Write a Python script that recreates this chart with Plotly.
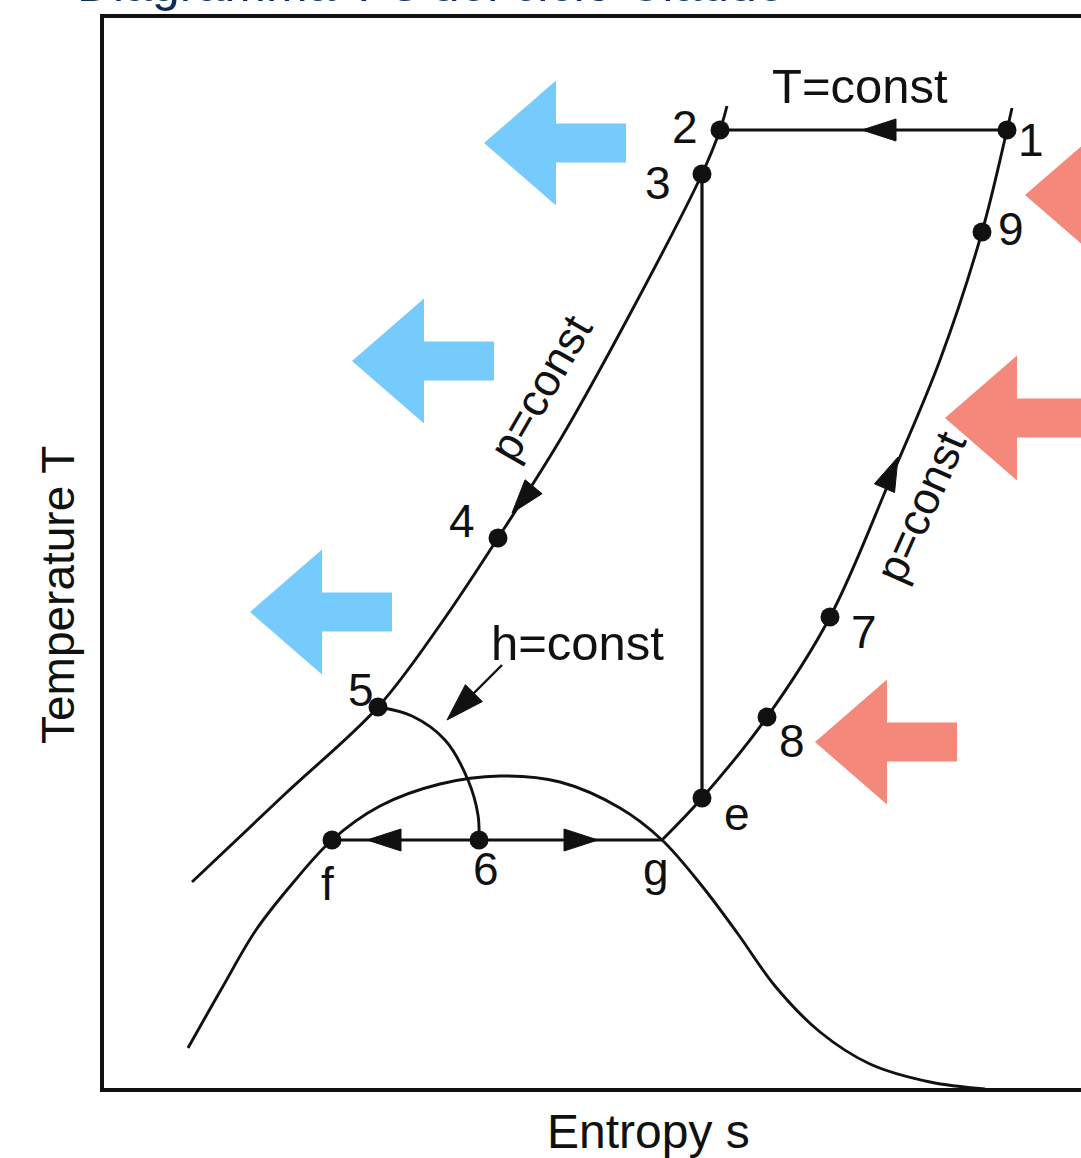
import math
import plotly.graph_objects as go

# ---------------------------------------------------------------------------
# T-s diagram of a Claude liquefaction cycle (entropy s, temperature T,
# arbitrary units; the frame origin is s = 0, T = 0)
# ---------------------------------------------------------------------------

# State points marked with a dot
STATE_LABELS = ["1", "2", "3", "4", "5", "6", "f", "e", "8", "7", "9"]
STATE_S = [9.05, 6.18, 6.00, 3.96, 2.76, 3.77, 2.30, 6.00, 6.65, 7.28, 8.80]
STATE_T = [9.60, 9.60, 9.16, 5.52, 3.83, 2.50, 2.50, 2.92, 3.73, 4.73, 8.58]

# High-pressure isobar (2 -> 3 -> 4 -> 5)
HP_ISOBAR_S = [0.90, 1.83, 2.76, 3.38, 3.96, 4.58, 5.28, 6.00, 6.18, 6.25]
HP_ISOBAR_T = [2.08, 2.96, 3.83, 4.65, 5.52, 6.50, 7.76, 9.16, 9.60, 9.84]

# Low-pressure isobar (g -> e -> 8 -> 7 -> 9 -> 1)
LP_ISOBAR_S = [5.60, 6.00, 6.65, 7.28, 7.88, 8.38, 8.80, 9.05, 9.10]
LP_ISOBAR_T = [2.50, 2.92, 3.73, 4.73, 6.10, 7.30, 8.58, 9.60, 9.82]

# Saturation dome
DOME_S = [0.86, 1.20, 1.54, 1.90, 2.30, 2.78, 3.38, 3.98, 4.58,
          5.18, 5.60, 6.00, 6.36, 6.73, 7.18, 7.68, 8.28, 8.83]
DOME_T = [0.42, 1.02, 1.60, 2.06, 2.50, 2.84, 3.06, 3.14, 3.08,
          2.82, 2.50, 2.04, 1.56, 1.04, 0.58, 0.26, 0.08, 0.01]

# Throttling along h = const (5 -> 6)
ISENTHALP_S = [2.76, 3.10, 3.43, 3.66, 3.76, 3.77]
ISENTHALP_T = [3.83, 3.74, 3.50, 3.10, 2.75, 2.50]

# Straight segments
ISOTHERM_S = [6.18, 9.05]          # compression 1 -> 2 at T = const
ISOTHERM_T = [9.60, 9.60]
EXPANDER_S = [6.00, 6.00]          # expander 3 -> e
EXPANDER_T = [9.16, 2.92]
PHASE_SPLIT_S = [2.30, 3.77, 5.60]  # f <- 6 -> g
PHASE_SPLIT_T = [2.50, 2.50, 2.50]

# Flow-direction arrowheads: tip position and direction
FLOW_TIP_S = [7.60, 2.65, 4.96, 4.10, 7.96]
FLOW_TIP_T = [9.60, 2.50, 2.50, 5.77, 6.33]
FLOW_DIR_S = [-1.0, -1.0, 1.0, -0.23, 0.13]
FLOW_DIR_T = [0.0, 0.0, 0.0, -0.28, 0.30]

# Heat rejected (blue) and heat absorbed (salmon): arrow tips
HEAT_OUT_TIP_S = [3.82, 2.50, 1.48]
HEAT_OUT_TIP_T = [9.47, 7.29, 4.78]
HEAT_IN_TIP_S = [9.23, 8.43, 7.13]
HEAT_IN_TIP_T = [8.95, 6.72, 3.48]

BLUE = "#76CBFD"
SALMON = "#F4887A"
INK = "#111111"
FONT = "Liberation Sans"

fig = go.Figure()


def block_arrow(tx, ty, color):
    """Left-pointing block arrow with its tip at (tx, ty)."""
    head_len, head_half, shaft_half, total = 0.72, 0.625, 0.195, 1.42
    xs = [tx, tx + head_len, tx + head_len, tx + total, tx + total,
          tx + head_len, tx + head_len, tx]
    ys = [ty, ty + head_half, ty + shaft_half, ty + shaft_half,
          ty - shaft_half, ty - shaft_half, ty - head_half, ty]
    fig.add_trace(go.Scatter(x=xs, y=ys, mode="lines", fill="toself",
                             fillcolor=color, line=dict(width=0, color=color),
                             hoverinfo="skip"))


def arrowhead(tx, ty, dx, dy, length=0.34, half=0.11):
    """Filled triangle whose tip is at (tx, ty), pointing along (dx, dy)."""
    n = math.hypot(dx, dy)
    ux, uy = dx / n, dy / n
    bx, by = tx - ux * length, ty - uy * length
    px, py = -uy * half, ux * half
    fig.add_trace(go.Scatter(x=[tx, bx + px, bx - px, tx],
                             y=[ty, by + py, by - py, ty],
                             mode="lines", fill="toself", fillcolor=INK,
                             line=dict(width=1, color=INK), hoverinfo="skip"))


for sx, tx in zip(HEAT_OUT_TIP_S, HEAT_OUT_TIP_T):
    block_arrow(sx, tx, BLUE)
for sx, tx in zip(HEAT_IN_TIP_S, HEAT_IN_TIP_T):
    block_arrow(sx, tx, SALMON)


def curve(xs, ys, width=2.9, smooth=True):
    fig.add_trace(go.Scatter(
        x=xs, y=ys, mode="lines",
        line=dict(color=INK, width=width,
                  shape="spline" if smooth else "linear", smoothing=1.0),
        hoverinfo="skip"))


curve(DOME_S, DOME_T)
curve(HP_ISOBAR_S, HP_ISOBAR_T)
curve(LP_ISOBAR_S, LP_ISOBAR_T)
curve(ISENTHALP_S, ISENTHALP_T)
curve(ISOTHERM_S, ISOTHERM_T, width=3.2, smooth=False)
curve(EXPANDER_S, EXPANDER_T, width=3.2, smooth=False)
curve(PHASE_SPLIT_S, PHASE_SPLIT_T, width=2.9, smooth=False)

for tx, ty, dx, dy in zip(FLOW_TIP_S, FLOW_TIP_T, FLOW_DIR_S, FLOW_DIR_T):
    arrowhead(tx, ty, dx, dy)

# h = const pointer
POINTER_S = [4.00, 3.45]
POINTER_T = [4.25, 3.70]
curve([POINTER_S[0], POINTER_S[1] + 0.25], [POINTER_T[0], POINTER_T[1] + 0.25],
      width=2.4, smooth=False)
arrowhead(POINTER_S[1], POINTER_T[1], POINTER_S[1] - POINTER_S[0],
          POINTER_T[1] - POINTER_T[0], length=0.38, half=0.12)

# State point dots
fig.add_trace(go.Scatter(x=STATE_S, y=STATE_T, mode="markers",
                         marker=dict(size=19, color=INK), hoverinfo="skip"))

# Frame: left, top and bottom borders
fig.add_shape(type="path", path="M 12,10.74 L 0,10.74 L 0,0 L 12,0",
              xref="x", yref="y", line=dict(color=INK, width=4))

# Labels: (text, s, T, size, angle)
LABELS = [
    ("1", 9.29, 9.50, 46, 0), ("2", 5.83, 9.63, 46, 0),
    ("3", 5.56, 9.07, 46, 0), ("9", 9.09, 8.61, 46, 0),
    ("4", 3.60, 5.69, 46, 0), ("5", 2.59, 4.00, 46, 0),
    ("7", 7.62, 4.58, 46, 0), ("8", 6.90, 3.49, 46, 0),
    ("e", 6.35, 2.76, 46, 0), ("6", 3.84, 2.21, 46, 0),
    ("f", 2.25, 2.06, 46, 0), ("g", 5.54, 2.21, 46, 0),
    ("T=const", 7.58, 10.04, 49, 0), ("h=const", 4.75, 4.47, 49, 0),
    ("p=const", 4.38, 7.02, 45, -60), ("p=const", 8.18, 5.83, 45, -66),
    ("Temperature T", -0.44, 4.95, 46, -90), ("Entropy s", 5.46, -0.41, 48, 0),
]
for text, sx, ty, size, ang in LABELS:
    fig.add_annotation(x=sx, y=ty, xref="x", yref="y", text=text,
                       showarrow=False, textangle=ang,
                       xanchor="center", yanchor="middle",
                       font=dict(family=FONT, size=size, color=INK))

# Slide heading, running off the top edge
fig.add_annotation(x=0.069, y=1.0137, xref="paper", yref="paper",
                   text="Diagramma T-s del ciclo Claude", showarrow=False,
                   xanchor="left", yanchor="middle",
                   font=dict(family=FONT, size=50, color="#0B2E5E"))

fig.update_layout(
    width=1081, height=1158,
    margin=dict(l=0, r=0, t=0, b=0),
    paper_bgcolor="white", plot_bgcolor="white",
    showlegend=False,
    xaxis=dict(range=[-1.02, 9.79], visible=False, fixedrange=True),
    yaxis=dict(range=[-0.68, 10.90], visible=False, fixedrange=True),
)

fig.write_html("out.html")
